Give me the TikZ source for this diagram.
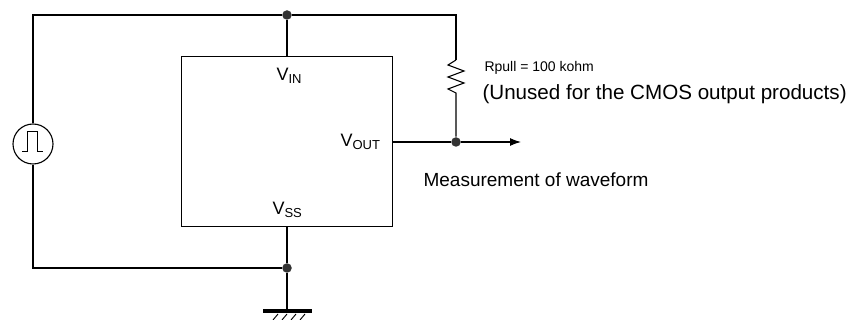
\documentclass[tikz,border=0pt]{standalone}
\usepackage{fontspec}
\setmainfont{Liberation Sans}
\usetikzlibrary{arrows.meta}
\newcommand\pinsub[1]{\raisebox{-2.5pt}{\fontsize{13}{13}\selectfont #1}}
\begin{document}
\begin{tikzpicture}[x=1pt, y=-1pt, line width=1.1pt,
  dot/.style={circle, fill=black!80, inner sep=0pt, minimum size=9.5pt},
  pin/.style={anchor=base west, inner sep=0pt, font=\fontsize{18}{18}\selectfont},
  label/.style={anchor=base west, inner sep=0pt}]
  \useasboundingbox (0,0) rectangle (863,320);

  % Device block
  \node[draw, anchor=north west, minimum width=211pt, minimum height=170pt,
        inner sep=0pt] (ic) at (181,56) {};
  \node[pin] (vin) at (276,81) {V\pinsub{IN}};
  \node[pin] (vout) at (340,147) {V\pinsub{OUT}};
  \node[pin] (vss) at (272,215) {V\pinsub{SS}};

  % Pulse source
  \node[draw, circle, minimum size=40pt, inner sep=0pt] (src) at (33,144) {};
  \draw[line width=1pt] (22,152) -- (27,152) -- (27,132) -- (37,132) -- (37,152) -- (43,152);

  % Junctions and corners
  \coordinate (tl) at (33,15);
  \node[dot] (top) at (287,15) {};
  \coordinate (tr) at (456,15);
  \coordinate (rtop) at (456,60);
  \coordinate (rbot) at (456,93);
  \node[dot] (out) at (456,142) {};
  \coordinate (meas) at (521,142);
  \node[dot] (gnd) at (287,268) {};
  \coordinate (bl) at (33,268);
  \coordinate (earth) at (287,311);

  % Supply side
  \draw (src.north) -- (tl) -- (top) -- (tr) -- (rtop);
  \draw (top) -- (ic.north -| top);

  % Pull-up resistor
  \draw (rtop) -- (448,65) -- (464,71) -- (448,77) -- (464,83) -- (448,89) -- (456,93) -- (out);

  % Output
  \draw (ic.east |- out) -- (out);
  \draw[-{Latex[length=11pt, width=8pt]}] (out) -- (meas);

  % Ground side
  \draw (ic.south -| gnd) -- (gnd) -- (bl) -- (src.south);
  \draw (gnd) -- (earth);
  \draw[line width=4pt] ([xshift=-24pt]earth) -- ([xshift=25pt]earth);
  \foreach \x in {273,282,291,300}
    \draw[line width=0.9pt] (\x,320) -- (\x+5,314);

  % Texts
  \node[label, font=\fontsize{14}{14}\selectfont] (rlabel) at (484,72) {Rpull = 100 kohm};
  \node[label, font=\fontsize{20.6}{20.6}\selectfont] (note) at (482,100) {(Unused for the CMOS output products)};
  \node[label, font=\fontsize{19}{19}\selectfont] (measlabel) at (423,187) {Measurement of waveform};
\end{tikzpicture}
\end{document}
